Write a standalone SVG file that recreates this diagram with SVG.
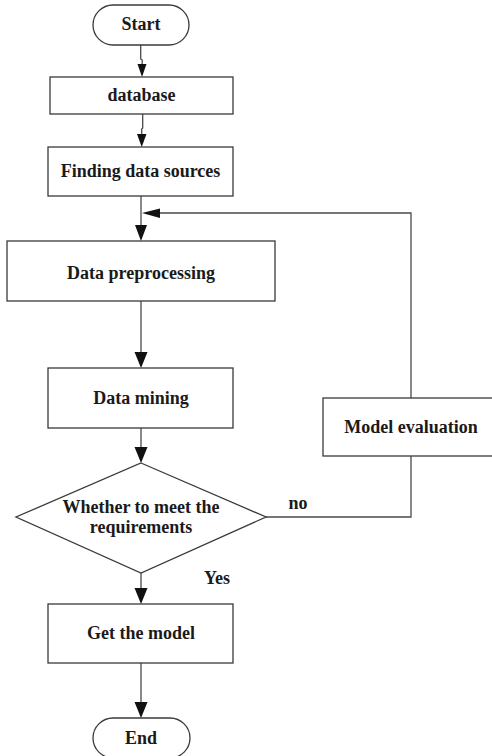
<svg xmlns="http://www.w3.org/2000/svg" width="492" height="756" viewBox="0 0 492 756">
  <style>
    .box { fill: #ffffff; stroke: #3a3a3a; stroke-width: 1.3; }
    .line { fill: none; stroke: #4a4a4a; stroke-width: 1.3; }
    .head { fill: #111111; stroke: none; }
    .label { font-family: "Liberation Serif", "Times New Roman", serif; font-weight: bold; font-size: 18px; fill: #1a1a1a; text-anchor: middle; }
  </style>
  <rect width="492" height="756" fill="#ffffff"/>

  <!-- connectors -->
  <g id="connectors">
    <polyline class="line" points="140.7,45 140.7,59 142.2,60 142.2,66"/>
    <polygon class="head" points="137.5,64 146.5,64 142,77"/>
    <polyline class="line" points="142.7,114 142.7,128 141.7,129 141.7,136"/>
    <polygon class="head" points="137,134 146.5,134 141.7,147"/>
    <line class="line" x1="141" y1="196" x2="141" y2="228"/>
    <polygon class="head" points="135,225 147,225 141,241"/>
    <polyline class="line" points="411,398 411,213 156,213"/>
    <polygon class="head" points="142,213 160,208.5 160,218"/>
    <line class="line" x1="141" y1="301" x2="141" y2="355"/>
    <polygon class="head" points="134.5,352 147.5,352 141,368"/>
    <line class="line" x1="141" y1="428" x2="141" y2="450"/>
    <polygon class="head" points="134.5,447 147.5,447 141,463"/>
    <polyline class="line" points="266,517 411,517 411,456"/>
    <text class="label" x="298" y="509">no</text>
    <line class="line" x1="141" y1="573" x2="141" y2="592"/>
    <polygon class="head" points="134.5,588 147.5,588 141,604"/>
    <text class="label" x="217" y="584">Yes</text>
    <line class="line" x1="141" y1="663" x2="141" y2="705"/>
    <polygon class="head" points="134.5,702 147.5,702 141,718"/>
  </g>

  <g id="start">
    <rect class="box" x="93" y="5" width="96" height="40" rx="20" ry="20"/>
    <text class="label" x="141" y="30">Start</text>
  </g>
  <g id="database">
    <rect class="box" x="50" y="77" width="183" height="37"/>
    <text class="label" x="141.5" y="101">database</text>
  </g>
  <g id="finding-sources">
    <rect class="box" x="48" y="147" width="185" height="49"/>
    <text class="label" x="140.5" y="177">Finding data sources</text>
  </g>
  <g id="preprocessing">
    <rect class="box" x="7" y="241" width="268" height="60"/>
    <text class="label" x="141" y="279">Data preprocessing</text>
  </g>
  <g id="mining">
    <rect class="box" x="48" y="368" width="185" height="60"/>
    <text class="label" x="141" y="404">Data mining</text>
  </g>
  <g id="decision">
    <polygon class="box" points="141,463 266,517 141,573 16,517"/>
    <text class="label" x="141" y="513">Whether to meet the</text>
    <text class="label" x="141" y="533">requirements</text>
  </g>
  <g id="evaluation">
    <rect class="box" x="323" y="398" width="175" height="58"/>
    <text class="label" x="411" y="433">Model evaluation</text>
  </g>
  <g id="get-model">
    <rect class="box" x="48" y="604" width="185" height="59"/>
    <text class="label" x="141" y="639">Get the model</text>
  </g>
  <g id="end">
    <rect class="box" x="93" y="718" width="97" height="40" rx="20" ry="20"/>
    <text class="label" x="141" y="744">End</text>
  </g>
</svg>
